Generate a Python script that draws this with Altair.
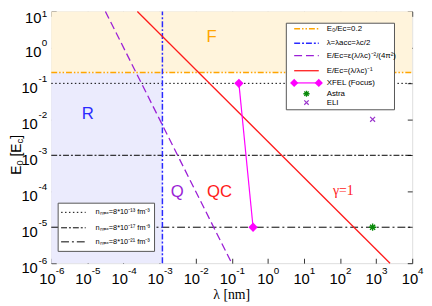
import altair as alt
import pandas as pd

# ---------------- data ----------------
x_ticks = [1e-6, 1e-5, 1e-4, 1e-3, 1e-2, 1e-1, 1e0, 1e1, 1e2, 1e3, 1e4]
x_tick_exp = ["-6", "-5", "-4", "-3", "-2", "-1", "0", "1", "2", "3", "4"]
y_ticks = [1e-6, 1e-5, 1e-4, 1e-3, 1e-2, 1e-1, 1e0, 1e1]
y_tick_exp = ["-6", "-5", "-4", "-3", "-2", "-1", "0", "1"]

x_min, x_max = 1e-6, 1e4
y_min, y_max = 1e-6, 10.0

E_F = 0.2                 # E0/Ec = 0.2
lambda_acc = 1.2e-3       # lambda = lambda_c/2

purple_lambda = [3.16e-5, 0.1]
purple_E = [10.0, 1e-6]
red_lambda = [2.43e-4, 2430.0]
red_E = [10.0, 1e-6]

nmax_E = [0.1, 1e-3, 1e-5]

xfel_lambda = [0.158, 0.39]
xfel_E = [0.1, 1e-5]
astra_lambda = [800.0]
astra_E = [1e-5]
eli_lambda = [800.0]
eli_E = [1e-2]

region_text = ["F", "R", "Q", "QC"]
region_lambda = [0.0275, 1.02e-5, 3.1e-3, 0.046]
region_E = [1.95, 0.0144, 9.3e-5, 9.3e-5]
region_color = ["#ffa500", "#2a2aff", "#9b1fd6", "#ff1a1a"]
gamma_text = ["γ=1"]
gamma_lambda = [123.0]
gamma_E = [1e-4]

legend1_labels = ["E₀/Ec=0.2", "λ=λacc=λc/2", "E/Ec=ε(λ/λc)⁻²/(4π²)", "E/Ec=(λ/λc)⁻¹",
                  "XFEL (Focus)", "Astra", "ELI"]
legend2_labels = ["nₘₐₓ=8*10⁻¹³ fm⁻³", "nₘₐₓ=8*10⁻¹⁷ fm⁻³", "nₘₐₓ=8*10⁻²¹ fm⁻³"]
x_title = "λ [nm]"
y_title_parts = ["E", "0", "[E", "c", "]"]
y_title_sub = [False, True, False, True, False]

# ---------------- styles ----------------
W, H = 367, 256
ORANGE = "#ffa500"
BLUE = "#2a2aff"
PURPLE = "#9b1fd6"
RED = "#ff1a1a"
MAGENTA = "#ff00ff"
GREEN = "#0a8a0a"
ELI_COL = "#9933cc"
nmax_dash = [[1.5, 2.5], [6, 2, 2, 2], [8, 3, 2, 3]]
FONT = "Liberation Sans"

xs = alt.Scale(type="log", domain=[x_min, x_max], nice=False)
ys = alt.Scale(type="log", domain=[y_min, y_max], nice=False)

ax_common = dict(domain=False, grid=False, ticks=True, tickSize=5, offset=-5, tickColor="#333",
                 labels=False, title=None)

x_axis = alt.Axis(orient="bottom", values=x_ticks, **ax_common)
y_axis = alt.Axis(orient="left", values=y_ticks, **ax_common)
x_axis_top = alt.Axis(orient="top", values=x_ticks, **ax_common)
y_axis_right = alt.Axis(orient="right", values=y_ticks, **ax_common)


def X(field="x", axis=None):
    return alt.X(field + ":Q", scale=xs, axis=axis)


def Y(field="y", axis=None):
    return alt.Y(field + ":Q", scale=ys, axis=axis)


layers = []

# regions
reg_df = pd.DataFrame({
    "x": [x_min, x_min], "x2": [x_max, lambda_acc],
    "y": [E_F, y_min], "y2": [y_max, E_F],
    "c": ["#fff4dc", "#ebebfd"],
})
layers.append(alt.Chart(reg_df).mark_rect().encode(
    x=X("x", x_axis), x2="x2:Q", y=Y("y", y_axis), y2="y2:Q",
    fill=alt.Color("c:N", scale=None)))

# n_max horizontal lines
for E, d in zip(nmax_E, nmax_dash):
    df = pd.DataFrame({"x": [x_min, x_max], "y": [E, E]})
    layers.append(alt.Chart(df).mark_line(color="black", strokeWidth=1, strokeDash=d).encode(
        x=X(), y=Y()))

# E0/Ec = 0.2
df = pd.DataFrame({"x": [x_min, x_max], "y": [E_F, E_F]})
layers.append(alt.Chart(df).mark_line(color=ORANGE, strokeWidth=1.5,
                                      strokeDash=[6, 2, 1.5, 2, 1.5, 2]).encode(x=X(), y=Y()))

# vertical lambda_acc
df = pd.DataFrame({"x": [lambda_acc, lambda_acc], "y": [y_min, y_max]})
layers.append(alt.Chart(df).mark_line(color=BLUE, strokeWidth=1.5,
                                      strokeDash=[6, 2, 2, 2]).encode(x=X(), y=Y()))

# purple dashed
df = pd.DataFrame({"x": purple_lambda, "y": purple_E})
layers.append(alt.Chart(df).mark_line(color=PURPLE, strokeWidth=1.3,
                                      strokeDash=[8, 4]).encode(x=X(), y=Y()))

# red
df = pd.DataFrame({"x": red_lambda, "y": red_E})
layers.append(alt.Chart(df).mark_line(color=RED, strokeWidth=1.3).encode(
    x=X(axis=x_axis_top), y=Y(axis=y_axis_right)))

# XFEL
df = pd.DataFrame({"x": xfel_lambda, "y": xfel_E})
layers.append(alt.Chart(df).mark_line(color=MAGENTA, strokeWidth=1.2).encode(x=X(), y=Y()))
layers.append(alt.Chart(df).mark_point(shape="diamond", filled=True, color=MAGENTA, size=90,
                                       opacity=1).encode(x=X(), y=Y()))

STAR = "M-1,0L1,0M0,-1L0,1M-0.7,-0.7L0.7,0.7M-0.7,0.7L0.7,-0.7"
CROSS = "M-1,-1L1,1M-1,1L1,-1"
df = pd.DataFrame({"x": astra_lambda, "y": astra_E})
layers.append(alt.Chart(df).mark_point(shape=STAR, filled=False, color=GREEN, size=55,
                                       strokeWidth=1.4, opacity=1).encode(x=X(), y=Y()))
df = pd.DataFrame({"x": eli_lambda, "y": eli_E})
layers.append(alt.Chart(df).mark_point(shape=CROSS, filled=False, color=ELI_COL, size=25,
                                       strokeWidth=1.2, opacity=1).encode(x=X(), y=Y()))

# region labels
df = pd.DataFrame({"x": region_lambda, "y": region_E, "t": region_text, "c": region_color})
layers.append(alt.Chart(df).mark_text(font=FONT, fontSize=17, align="center",
                                      baseline="middle").encode(
    x=X(), y=Y(), text="t:N", color=alt.Color("c:N", scale=None)))
df = pd.DataFrame({"x": gamma_lambda, "y": gamma_E, "t": gamma_text})
layers.append(alt.Chart(df).mark_text(font="Liberation Serif", fontSize=14, align="center",
                                      baseline="middle", color=RED).encode(
    x=X(), y=Y(), text="t:N"))

# ---------------- tick labels: "10" + superscript exponent ----------------
xl = pd.DataFrame({"x": x_ticks, "e": x_tick_exp})
xl["neg"] = xl["e"].str.startswith("-")
for neg, dx10 in [(True, 4.5), (False, 6.0)]:
    sub = xl[xl["neg"] == neg]
    layers.append(alt.Chart(sub).mark_text(text="10", font=FONT, fontSize=15, align="right",
                                           baseline="middle", dx=dx10, color="black").encode(
        x=X(), y=alt.value(H + 16)))
    layers.append(alt.Chart(sub).mark_text(font=FONT, fontSize=10, align="left",
                                           baseline="middle", dx=dx10, color="black").encode(
        x=X(), y=alt.value(H + 8), text="e:N"))

yl = pd.DataFrame({"y": y_ticks, "e": y_tick_exp})
yl["neg"] = yl["e"].str.startswith("-")
# the outermost labels are nudged down a little, as in the original
yl["shift"] = [2.0] + [0.0] * (len(yl) - 2) + [7.0]
for (neg, shift), sub in yl.groupby(["neg", "shift"]):
    x10 = -13.7 if neg else -10.0
    layers.append(alt.Chart(sub).mark_text(text="10", font=FONT, fontSize=15, align="right",
                                           baseline="middle", dy=4.5 + shift * 0.3,
                                           color="black").encode(
        x=alt.value(x10), y=Y()))
    layers.append(alt.Chart(sub).mark_text(font=FONT, fontSize=10, align="right",
                                           baseline="middle", dy=-4 + shift,
                                           color="black").encode(
        x=alt.value(-4), y=Y(), text="e:N"))

dummy = pd.DataFrame({"a": [0]})

# axis titles
layers.append(alt.Chart(dummy).mark_text(text=x_title, font="Liberation Serif", fontSize=14,
                                         align="center", baseline="middle", color="black").encode(
    x=alt.value(W / 2), y=alt.value(H + 32)))

advance = {"E": 9.3, "0": 5.3 + 3.9, "[E": 13.2, "c": 4.75, "]": 3.9}
pos = 166.0
for part, is_sub in zip(y_title_parts, y_title_sub):
    fs = 9.5 if is_sub else 14
    layers.append(alt.Chart(dummy).mark_text(text=part, font=FONT, fontSize=fs, angle=270,
                                             align="left", baseline="alphabetic",
                                             color="black").encode(
        x=alt.value(-31 + (2.5 if is_sub else 0)), y=alt.value(pos)))
    pos -= advance[part]

# ---------------- legends (pixel layout) ----------------


def box(x1, x2, y1, y2):
    return alt.Chart(dummy).mark_rect(fill="white", stroke="#555", strokeWidth=1).encode(
        x=alt.value(x1), x2=alt.value(x2), y=alt.value(y1), y2=alt.value(y2))


def seg(x1, x2, y, color, dash=None, width=1.3):
    kw = dict(color=color, strokeWidth=width)
    if dash:
        kw["strokeDash"] = dash
    return alt.Chart(dummy).mark_rule(**kw).encode(
        x=alt.value(x1), x2=alt.value(x2), y=alt.value(y))


def label(x, y, t, size=8):
    return alt.Chart(dummy).mark_text(text=t, font=FONT, fontSize=size,
                                      align="left", baseline="middle", color="black").encode(
        x=alt.value(x), y=alt.value(y))


def sym(x, y, shape, color, size, filled, sw=1.2):
    return alt.Chart(dummy).mark_point(shape=shape, filled=filled, color=color, size=size,
                                       strokeWidth=sw, opacity=1).encode(
        x=alt.value(x), y=alt.value(y))


L1y = [17.7, 32.3, 45, 60.3, 72.7, 83.7, 92.7]
lx1, lx2, tx = 247, 272, 280
layers.append(box(239, 349, 12, 100))
layers.append(seg(lx1, lx2, L1y[0], ORANGE, [6, 2, 1.5, 2, 1.5, 2], 1.5))
layers.append(seg(lx1, lx2, L1y[1], BLUE, [6, 2, 2, 2], 1.5))
layers.append(seg(lx1, lx2, L1y[2], PURPLE, [8, 4]))
layers.append(seg(lx1, lx2, L1y[3], RED))
layers.append(seg(lx1, lx2, L1y[4], MAGENTA, None, 1.2))
layers.append(sym(lx1, L1y[4], "diamond", MAGENTA, 70, True))
layers.append(sym(lx2, L1y[4], "diamond", MAGENTA, 70, True))
layers.append(sym((lx1 + lx2) / 2, L1y[5], STAR, GREEN, 40, False, 1.3))
layers.append(sym((lx1 + lx2) / 2, L1y[6], CROSS, ELI_COL, 20, False))
for yy, t in zip(L1y, legend1_labels):
    layers.append(label(tx, yy, t, 8))

L2y = [204.3, 220, 234.3]
layers.append(box(7, 105, 195, 244))
for yy, d, t in zip(L2y, nmax_dash, legend2_labels):
    layers.append(seg(10, 35, yy, "black", d, 1))
    layers.append(label(45, yy, t, 7.5))

chart = alt.layer(*layers).resolve_axis(x="independent", y="independent").properties(
    width=W, height=H,
    autosize=alt.AutoSizeParams(type="none"),
    padding={"left": 44, "top": 1, "right": 12, "bottom": 38},
).configure_view(stroke="black", strokeWidth=1).configure(background="white")

chart.save("out.html", embed_options={"renderer": "svg", "actions": False})
